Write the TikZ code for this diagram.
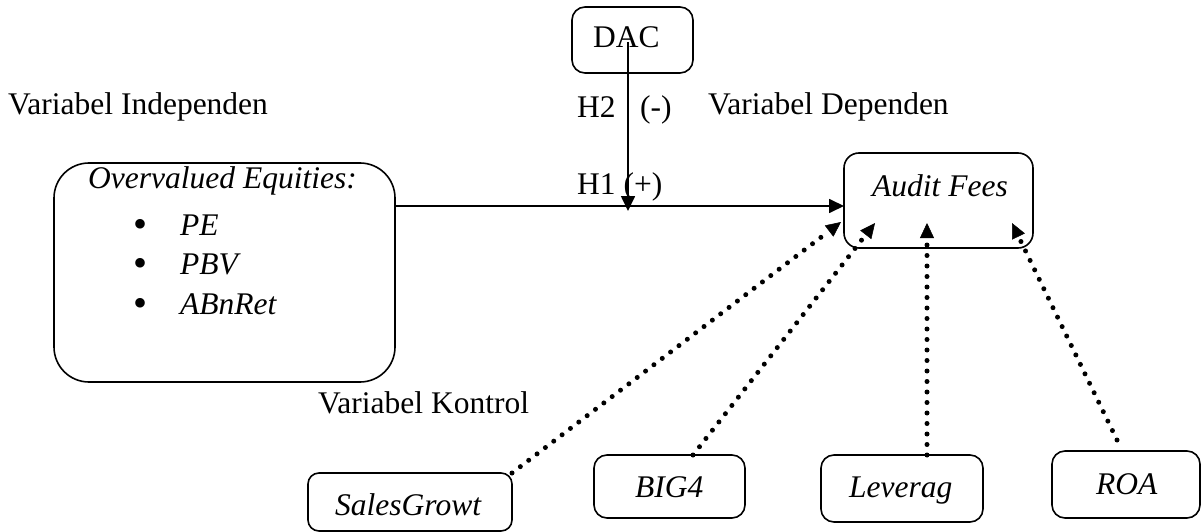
\documentclass[tikz,border=0pt]{standalone}
\usepackage{fontspec}
\setmainfont{Liberation Serif}
\usetikzlibrary{arrows.meta}
\begin{document}
\begin{tikzpicture}[x=1pt,y=-1pt,
  box/.style={draw, line width=1.6pt, inner sep=0pt, outer sep=0pt, rounded corners=13pt},
  txt/.style={inner sep=0pt, anchor=base west, font=\fontsize{31.5}{36}\selectfont},
  itxt/.style={txt, font=\fontsize{31.5}{36}\selectfont\itshape},
  bul/.style={inner sep=0pt, anchor=base, font=\fontsize{40}{40}\selectfont},
  solidarrow/.style={line width=1.7pt, -{Triangle[length=15pt,width=14pt]}},
  dotarrow/.style={line width=5pt, line cap=round, dash pattern=on 0pt off 10.5pt,
    -{Triangle[length=15pt,width=14pt,line width=0.5pt]}}
]
\useasboundingbox (0,0) rectangle (1202,532);

% boxes
\node[box, minimum width=121pt, minimum height=66pt] (dac) at (632.5,40) {};
\node[box, rounded corners=35pt, minimum width=341pt, minimum height=219pt] (ov) at (224.5,272.5) {};
\node[box, rounded corners=15pt, minimum width=189pt, minimum height=95pt] (audit) at (938.5,200.5) {};
\node[box, rounded corners=11pt, minimum width=204pt, minimum height=58pt] (sg) at (410,502) {};
\node[box, minimum width=151pt, minimum height=63pt] (big) at (669.5,486.5) {};
\node[box, minimum width=162pt, minimum height=67pt] (lev) at (902,488.5) {};
\node[box, minimum width=148pt, minimum height=67pt] (roa) at (1126,484.5) {};

% box texts
\node[txt] (dact) at (593,48) {DAC};
\node[itxt] (ovt) at (88,188) {Overvalued Equities:};
\node[bul] (b1) at (141,237) {\textbullet};
\node[bul] (b2) at (141,276) {\textbullet};
\node[bul] (b3) at (141,316) {\textbullet};
\node[itxt] (pe) at (180,235) {PE};
\node[itxt] (pbv) at (180,274) {PBV};
\node[itxt] (abn) at (180,314) {ABnRet};
\node[itxt] (auditt) at (872,196) {Audit Fees};
\node[itxt] (sgt) at (335,515) {SalesGrowt};
\node[itxt] (bigt) at (635,497) {BIG4};
\node[itxt] (levt) at (849,497) {Leverag};
\node[itxt] (roat) at (1096,494) {ROA};

% labels
\node[txt] (vi) at (8,115) {Variabel Independen};
\node[txt] (vd) at (708,115) {Variabel Dependen};
\node[txt] (h2) at (577,118) {H2};
\node[txt] (h2s) at (640,118) {(-)};
\node[txt] (h1) at (577,194) {H1 (+)};
\node[txt] (vk) at (318,413) {Variabel Kontrol};

% connectors
\coordinate (h2tip) at (628,211);
\draw[solidarrow] ([xshift=-4.5pt,yshift=-2pt]dac.center) -- (h2tip);
\draw[solidarrow] (ov.east |- 0,206) -- (audit.west |- 0,206);

\coordinate (t1) at (841,222);
\coordinate (t2) at (875,223);
\coordinate (t3) at (927,223);
\coordinate (t4) at (1012,223);
\draw[dotarrow] (sg.north east) -- (t1);
\draw[dotarrow] ([xshift=23.5pt]big.north) -- (t2);
\draw[dotarrow] ([xshift=25pt]lev.north) -- (t3);
\draw[dotarrow] ([shift={(-9,-11)}]roa.north) -- (t4);
\end{tikzpicture}
\end{document}
